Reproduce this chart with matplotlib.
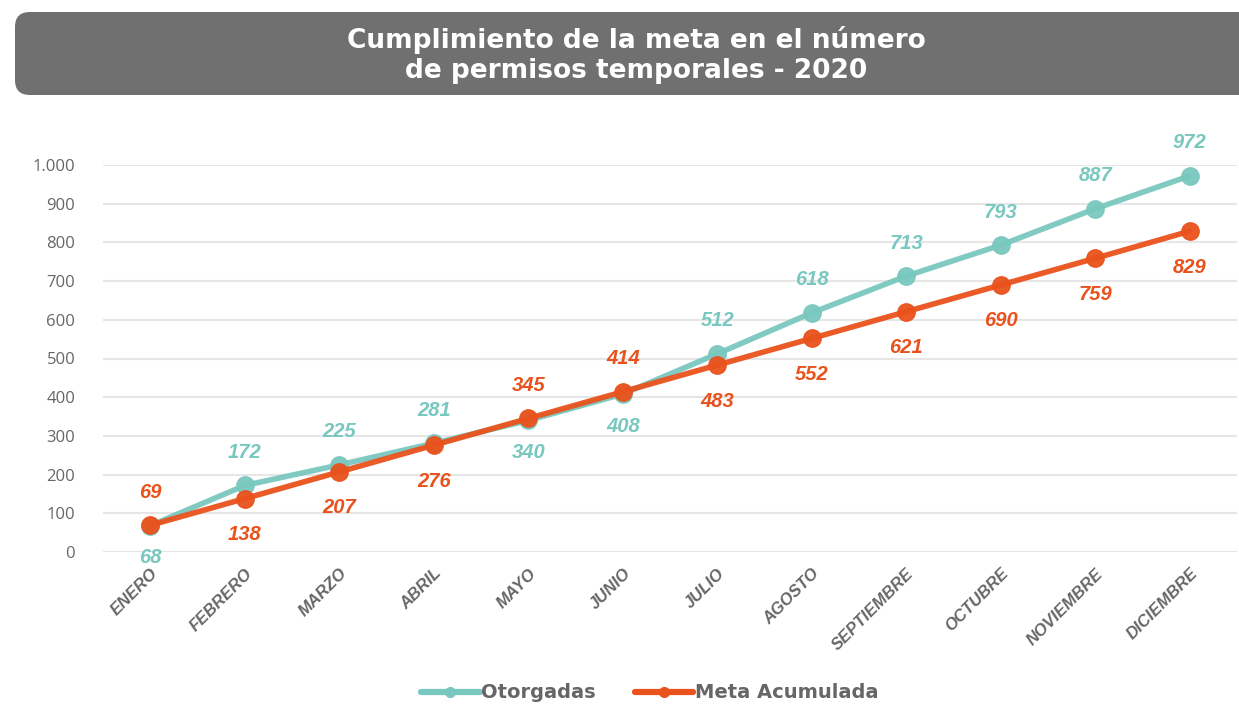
import matplotlib.pyplot as plt
from matplotlib.lines import Line2D
from matplotlib.patches import FancyBboxPatch

months = ["ENERO", "FEBRERO", "MARZO", "ABRIL", "MAYO", "JUNIO", "JULIO",
          "AGOSTO", "SEPTIEMBRE", "OCTUBRE", "NOVIEMBRE", "DICIEMBRE"]
otorgadas = [68, 172, 225, 281, 340, 408, 512, 618, 713, 793, 887, 972]
meta = [69, 138, 207, 276, 345, 414, 483, 552, 621, 690, 759, 829]
y_ticks = [0, 100, 200, 300, 400, 500, 600, 700, 800, 900, 1000]
y_tick_labels = ["0", "100", "200", "300", "400", "500", "600", "700", "800", "900", "1.000"]

TEAL = "#79C8BF"
ORANGE = "#E9521C"
GRAY = "#666666"

fig = plt.figure(figsize=(12.39, 7.04), dpi=100)

# title banner
banner = FancyBboxPatch((15 / 1239, 1 - 95 / 704), 1.05, 83 / 704,
                        boxstyle="round,pad=0,rounding_size=0.012",
                        transform=fig.transFigure, facecolor="#707070",
                        edgecolor="none", mutation_aspect=1239 / 704)
fig.patches.append(banner)
fig.text(636 / 1239, 1 - 55 / 704,
         "Cumplimiento de la meta en el número\nde permisos temporales - 2020",
         ha="center", va="center", color="white", fontsize=19,
         fontweight="bold", family="DejaVu Sans", linespacing=1.25)

ax = fig.add_axes([103 / 1239, 1 - 552 / 704, 1134 / 1239, 387 / 704])
x = list(range(len(months)))

ax.plot(x, otorgadas, color=TEAL, lw=4, marker="o", ms=12.5, alpha=0.95,
        solid_capstyle="round", zorder=3, clip_on=False)
ax.plot(x, meta, color=ORANGE, lw=4, marker="o", ms=12.5, alpha=0.95,
        solid_capstyle="round", zorder=4, clip_on=False)

# teal labels below for these months, orange above
flip = {0, 4, 5}
for i in x:
    t_off = -32 if i in flip else 33
    o_off = 33 if i in flip else -36
    ax.annotate(str(otorgadas[i]), (i, otorgadas[i]), xytext=(0, t_off),
                textcoords="offset pixels", ha="center", va="center",
                color=TEAL, fontsize=14.5, fontweight="bold", style="italic",
                family="Liberation Sans", annotation_clip=False)
    ax.annotate(str(meta[i]), (i, meta[i]), xytext=(0, o_off),
                textcoords="offset pixels", ha="center", va="center",
                color=ORANGE, fontsize=14.5, fontweight="bold", style="italic",
                family="Liberation Sans", annotation_clip=False)

ax.set_xlim(-0.5, 11.5)
ax.set_ylim(0, 1000)
ax.set_yticks(y_ticks)
ax.set_yticklabels(y_tick_labels, color=GRAY, fontsize=12, family="Open Sans")
ax.set_xticks(x)
ax.set_xticklabels(months, rotation=45, ha="right", rotation_mode="anchor",
                   color=GRAY, fontsize=12, fontweight="bold", style="italic",
                   family="Liberation Sans")
ax.tick_params(axis="both", length=0)
ax.tick_params(axis="x", pad=10)
ax.tick_params(axis="y", pad=20)
ax.grid(axis="y", color="#E6E6E6", lw=1.5)
ax.set_axisbelow(True)
for s in ax.spines.values():
    s.set_visible(False)

handles = [
    Line2D([], [], color=TEAL, lw=4.5, marker="o", ms=7, solid_capstyle="round"),
    Line2D([], [], color=ORANGE, lw=4.5, marker="o", ms=7, solid_capstyle="round"),
]
fig.legend(handles, ["Otorgadas", "Meta Acumulada"], loc="center",
           bbox_to_anchor=(650 / 1239, 1 - 693 / 704), ncol=2, frameon=False,
           handlelength=3.0, handletextpad=0.1, columnspacing=2.0,
           prop={"family": "DejaVu Sans", "weight": "bold", "size": 14},
           labelcolor=GRAY)

fig.savefig("out.png", dpi=100)
